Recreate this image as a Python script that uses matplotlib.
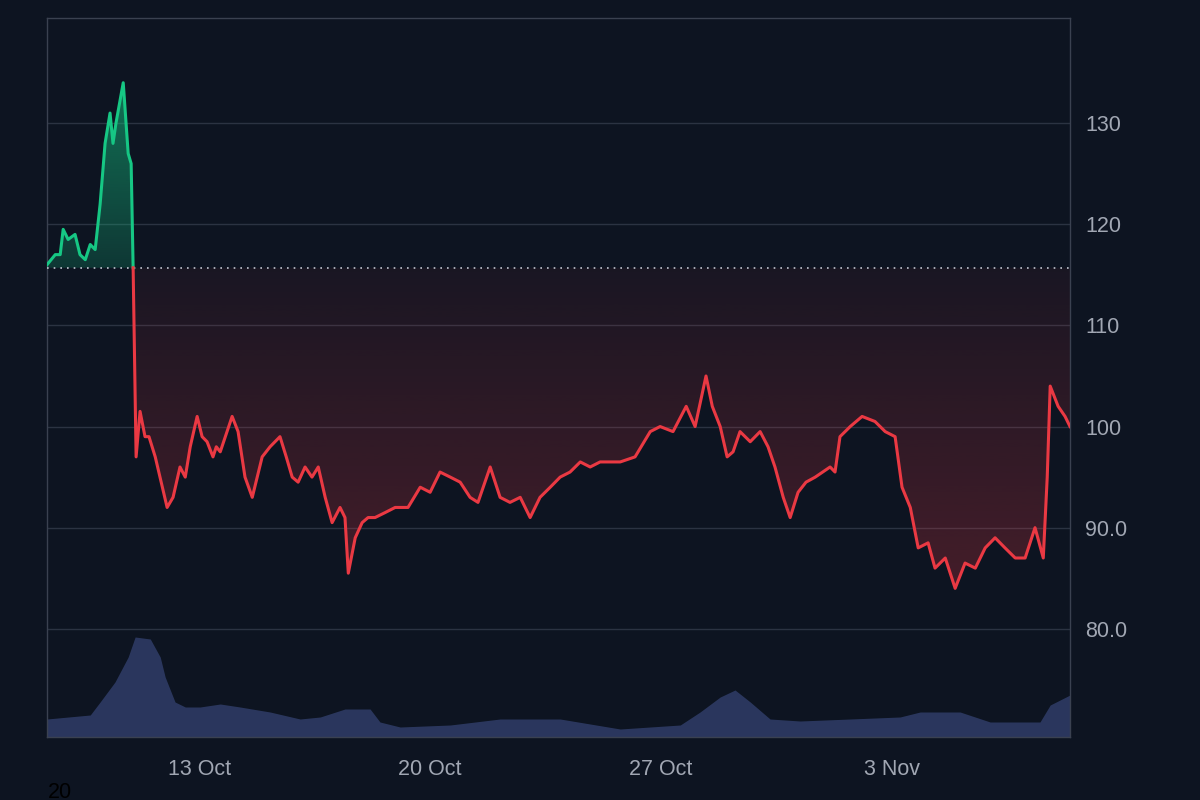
import numpy as np
import matplotlib
matplotlib.use("Agg")
import matplotlib.pyplot as plt
from matplotlib.path import Path
from matplotlib.patches import PathPatch
import datetime as dt
import matplotlib.dates as mdates

plt.rcParams['font.family'] = ['Liberation Sans', 'DejaVu Sans']

baseline = 115.7
start = dt.datetime(2023, 10, 8)
day = [0.39,0.64,0.79,0.88,1.03,1.24,1.39,1.55,1.70,1.85,2.0,2.15,2.30,2.39,2.48,2.70,2.85,2.94,3.0,3.09,3.21,3.36,3.48,3.67,4.03,4.21,4.42,4.58,4.73,4.94,5.09,5.24,5.42,5.52,5.64,6.0,6.18,6.39,6.61,6.91,7.15,7.30,7.45,7.64,7.82,8.0,8.21,8.42,8.61,8.82,9.03,9.27,9.42,9.52,9.73,9.94,10.12,10.33,10.64,10.94,11.33,11.70,12.0,12.30,12.61,12.91,13.21,13.45,13.82,14.12,14.42,14.73,15.03,15.33,15.64,15.94,16.24,16.55,16.85,17.15,17.76,18.21,18.67,18.97,19.36,19.76,20.03,20.36,20.55,20.79,21.0,21.18,21.39,21.70,22.0,22.24,22.45,22.70,22.91,23.15,23.39,23.67,24.12,24.27,24.42,24.73,25.09,25.48,25.79,26.09,26.30,26.55,26.79,27.09,27.30,27.61,27.91,28.21,28.52,28.82,29.12,29.42,29.73,30.03,30.33,30.58,30.70,30.79,31.03,31.24,31.39]
price = [116,117,117,119.5,118.5,119,117,116.5,118,117.5,122,128,131,128,130,134,127,126,115.7,97,101.5,99,99,97,92,93,96,95,98,101,99,98.5,97,98,97.5,101,99.5,95,93,97,98,98.5,99,97,95,94.5,96,95,96,93,90.5,92,91,85.5,89,90.5,91,91,91.5,92,92,94,93.5,95.5,95,94.5,93,92.5,96,93,92.5,93,91,93,94,95,95.5,96.5,96,96.5,96.5,97,99.5,100,99.5,102,100,105,102,100,97,97.5,99.5,98.5,99.5,98,96,93,91,93.5,94.5,95,96,95.5,99,100,101,100.5,99.5,99,94,92,88,88.5,86,87,84,86.5,86,88,89,88,87,87,90,87,95,104,102,101,100]

vol_day = [0.39,1.70,2.0,2.45,2.85,3.06,3.52,3.82,3.97,4.27,4.58,5.03,5.64,6.24,7.15,8.06,8.67,9.42,10.18,10.48,11.09,12.61,14.12,15.94,17.76,19.58,20.18,20.79,21.24,21.70,22.30,23.21,24.73,26.24,26.85,28.06,28.97,30.48,30.79,31.39]
volume = [18,22,35,55,80,100,98,80,60,35,30,30,33,30,25,18,20,28,28,15,10,12,18,18,8,12,25,40,47,35,18,16,18,20,25,25,15,15,32,42]

bg = "#0d1421"
fig = plt.figure(figsize=(12, 8), dpi=100, facecolor=bg)
ax = fig.add_axes([47/1200, 1-737/800, (1070-47)/1200, (737-18)/800])
t = np.array([start + dt.timedelta(days=d) for d in day])
tn = mdates.date2num(t)
p = np.array(price)
ymin, ymax = 69.3, 140.4

axv = ax.twinx()
vt = mdates.date2num([start + dt.timedelta(days=d) for d in vol_day])
axv.fill_between(vt, 0, volume, color="#2c3961", alpha=0.95, lw=0, zorder=1)
axv.set_ylim(0, 719)
axv.set_yticks([])
for s in axv.spines.values():
    s.set_visible(False)
ax.set_zorder(axv.get_zorder() + 1)
ax.patch.set_visible(False)
axv.set_facecolor(bg)

ax.set_xlim(tn[0], tn[-1])
ax.set_ylim(ymin, ymax)

xs, ys = [tn[0]], [p[0]]
for i in range(1, len(p)):
    if (p[i-1] - baseline) * (p[i] - baseline) < 0:
        f = (baseline - p[i-1]) / (p[i] - p[i-1])
        xs.append(tn[i-1] + f * (tn[i] - tn[i-1])); ys.append(baseline)
    xs.append(tn[i]); ys.append(p[i])
xs, ys = np.array(xs), np.array(ys)

def grad_fill(mask_above, color, y0, y1, a0, a1):
    yy = np.where(mask_above, np.maximum(ys, baseline), np.minimum(ys, baseline))
    verts = [(xs[0], baseline)] + list(zip(xs, yy)) + [(xs[-1], baseline)]
    patch = PathPatch(Path(verts), facecolor="none", edgecolor="none")
    ax.add_patch(patch)
    n = 256
    rgba = np.zeros((n, 1, 4))
    rgba[..., :3] = matplotlib.colors.to_rgb(color)
    rgba[:, 0, 3] = np.linspace(a0, a1, n)
    im = ax.imshow(rgba, extent=[xs[0], xs[-1], y0, y1], origin="lower", aspect="auto", zorder=2)
    im.set_clip_path(patch)

grad_fill(True, "#16c784", baseline, 135, 0.2, 0.55)
grad_fill(False, "#ea3943", 83, baseline, 0.26, 0.06)
ax.set_xlim(tn[0], tn[-1]); ax.set_ylim(ymin, ymax)

up = np.where(ys >= baseline, ys, np.nan)
dn = np.where(ys <= baseline, ys, np.nan)
ax.plot(xs, up, color="#16c784", lw=2.2, zorder=4)
ax.plot(xs, dn, color="#ea3943", lw=2.2, zorder=4)
ax.axhline(baseline, color="#c0c6d0", lw=1.2, ls=(0, (1, 3)), zorder=3)

ax.yaxis.tick_right()
ax.set_yticks([80, 90, 100, 110, 120, 130])
ax.set_yticklabels(["80.0", "90.0", "100", "110", "120", "130"])
ax.grid(axis="y", color="#2b3342", lw=1)
ax.set_xticks(mdates.date2num([dt.datetime(2023,10,13), dt.datetime(2023,10,20), dt.datetime(2023,10,27), dt.datetime(2023,11,3)]))
ax.set_xticklabels(["13 Oct", "20 Oct", "27 Oct", "3 Nov"])
ax.tick_params(axis="x", colors="#a1a7b3", labelsize=15.5, length=0, pad=16)
ax.tick_params(axis="y", colors="#a1a7b3", labelsize=15.5, length=0, pad=11)
for s in ax.spines.values():
    s.set_color("#3a4150"); s.set_linewidth(1)
fig.text(48/1200, 1-792/800, "20", color="black", fontsize=15.5, va="center")
fig.savefig("out.png", dpi=100, facecolor=bg)
